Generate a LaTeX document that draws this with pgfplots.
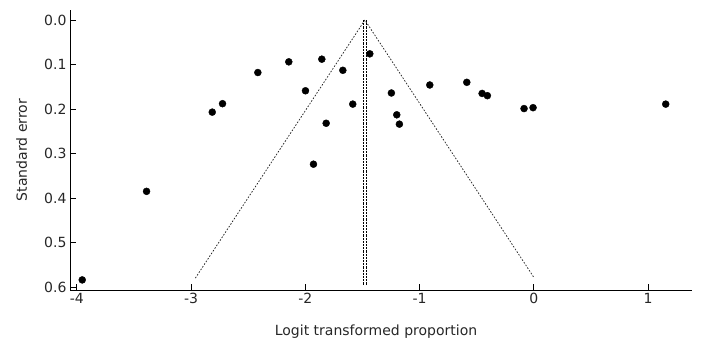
\documentclass[border=0pt]{standalone}
\usepackage{fontspec}
\setmainfont{DejaVu Sans}
\usepackage{pgfplots}
\pgfplotsset{compat=1.18}
\begin{document}
\begin{tikzpicture}
\useasboundingbox (0,0) rectangle (708bp,352bp);
\begin{axis}[
  at={(70bp,62bp)}, anchor=south west,
  scale only axis, width=622bp, height=280bp,
  xmin=-4.059, xmax=1.385,
  ymin=-0.0225, ymax=0.6067,
  y dir=reverse,
  axis x line=bottom, axis y line=left,
  axis line style={-, line width=0.9bp},
  tick align=inside,
  major tick length=6bp,
  tick style={line width=0.9bp, black},
  xtick={-4,-3,-2,-1,0,1},
  ytick={0,0.1,0.2,0.3,0.4,0.5,0.6},
  /pgf/number format/assume math mode=true,
  yticklabel style={/pgf/number format/fixed, /pgf/number format/fixed zerofill, /pgf/number format/precision=1},
  ticklabel style={font=\fontsize{14bp}{16bp}\selectfont, text=black!85},
  label style={font=\fontsize{14bp}{16bp}\selectfont, text=black!85},
  xlabel={Logit transformed proportion},
  ylabel={Standard error},
  x label style={at={(axis description cs:0.492,-0.15)}, anchor=center},
  y label style={at={(axis description cs:-0.0777,0.5)}, anchor=center, rotate=0},
  clip=false,
]
% funnel
\addplot[black!85, line width=0.75bp, dash pattern=on 1.6bp off 1.6bp] coordinates {(-2.962,0.58) (-1.478,0) (0.005,0.58)};
% double vertical line
\addplot[black, line width=0.9bp, dash pattern=on 2.2bp off 1bp] coordinates {(-1.490,0) (-1.490,0.595)};
\addplot[black, line width=0.9bp, dash pattern=on 2.2bp off 1bp] coordinates {(-1.466,0) (-1.466,0.595)};
% studies
\addplot[only marks, mark=*, mark size=3.5bp, black] coordinates {
(-2.814,0.207) (-2.724,0.188) (-2.415,0.118) (-2.144,0.094) (-1.855,0.088)
(-1.671,0.113) (-1.998,0.159) (-1.584,0.189) (-1.817,0.232) (-1.928,0.324)
(-1.435,0.076) (-1.246,0.164) (-1.199,0.213) (-1.176,0.234) (-0.910,0.146)
(-0.586,0.140) (-0.452,0.165) (-0.406,0.170) (-0.085,0.199) (-0.006,0.197)
(1.155,0.189) (-3.389,0.385) (-3.952,0.584)
};
\end{axis}
\end{tikzpicture}
\end{document}
